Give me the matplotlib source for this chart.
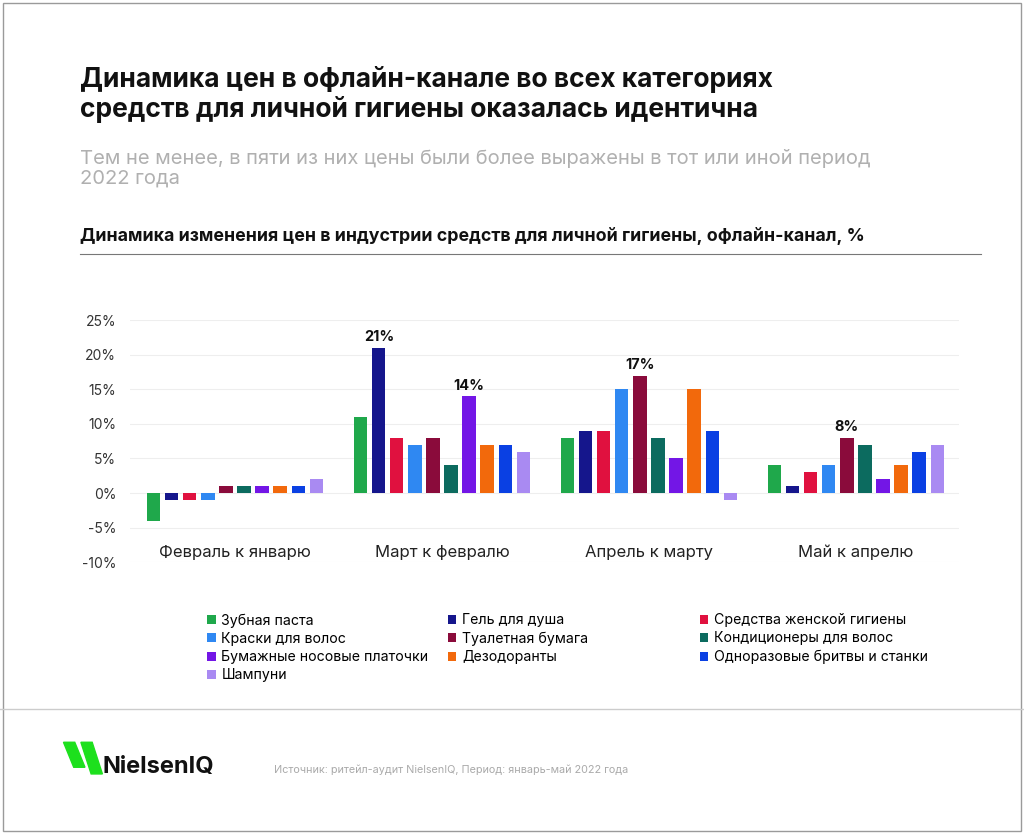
import numpy as np
import matplotlib.pyplot as plt
from matplotlib.patches import Rectangle

plt.rcParams['font.family'] = ['Inter', 'DejaVu Sans']

periods = ['Февраль к январю', 'Март к февралю', 'Апрель к марту', 'Май к апрелю']
series = ['Зубная паста', 'Гель для душа', 'Средства женской гигиены',
          'Краски для волос', 'Туалетная бумага', 'Кондиционеры для волос',
          'Бумажные носовые платочки', 'Дезодоранты', 'Одноразовые бритвы и станки',
          'Шампуни']
colors = ['#1fa84b', '#15168c', '#e0113f', '#2f88f2', '#8a0b3b', '#0c6b5f',
          '#7316e6', '#f2690c', '#0a40e3', '#a98af2']
values = [
    [-4, 11, 8, 4],
    [-1, 21, 9, 1],
    [-1, 8, 9, 3],
    [-1, 7, 15, 4],
    [1, 8, 17, 8],
    [1, 4, 8, 7],
    [1, 14, 5, 2],
    [1, 7, 15, 4],
    [1, 7, 9, 6],
    [2, 6, -1, 7],
]
# (series index, period index) of the labelled bars
highlights = [(1, 1), (6, 1), (4, 2), (4, 3)]

fig = plt.figure(figsize=(10.24, 8.34), dpi=100)
fig.patches.append(Rectangle((0.003, 0.003), 0.994, 0.994, transform=fig.transFigure,
                             fill=False, edgecolor='#9a9a9a', lw=1))

fig.text(0.078, 0.853, 'Динамика цен в офлайн-канале во всех категориях\nсредств для личной гигиены оказалась идентична',
         fontsize=19, fontweight='bold', color='#111111', va='bottom', linespacing=1.12)
fig.text(0.078, 0.775, 'Тем не менее, в пяти из них цены были более выражены в тот или иной период\n2022 года',
         fontsize=14.5, color='#b0b0b0', va='bottom', linespacing=1.15)
fig.text(0.078, 0.706, 'Динамика изменения цен в индустрии средств для личной гигиены, офлайн-канал, %',
         fontsize=12.8, fontweight='bold', color='#111111', va='bottom')
fig.add_artist(plt.Line2D([0.078, 0.958], [0.695, 0.695], color='#777777', lw=0.8))
fig.add_artist(plt.Line2D([0.0, 1.0], [0.15, 0.15], color='#cccccc', lw=1))

ax = fig.add_axes([0.127, 0.326, 0.81, 0.29])
x = np.arange(len(periods))
step = 0.087
width = 0.063
for i, (name, col) in enumerate(zip(series, colors)):
    ax.bar(x + (i - 4.5) * step, values[i], width, color=col, label=name, zorder=3)
for si, pi in highlights:
    v = values[si][pi]
    ax.text(pi + (si - 4.5) * step, v + 0.5, f'{v}%', ha='center', va='bottom',
            fontsize=10.5, fontweight='bold', color='#111111')
for pi, p in enumerate(periods):
    ax.text(pi, -8.6, p, ha='center', va='center', fontsize=12, color='#222222')

ax.set_ylim(-10, 25)
ax.set_xlim(-0.507, 3.5)
ax.set_yticks(range(-10, 30, 5))
ax.set_yticklabels([f'{t}%' for t in range(-10, 30, 5)], fontsize=10, color='#333333')
ax.set_xticks([])
ax.grid(axis='y', color='#eeeeee', lw=0.8, zorder=0)
ax.tick_params(axis='y', length=0, pad=10)
for s in ax.spines.values():
    s.set_visible(False)

# legend laid out row by row in three fixed columns
handles, labels = ax.get_legend_handles_labels()
col_x = [0.19, 0.425, 0.671]
for c in range(3):
    idx = list(range(c, len(series), 3))
    leg = fig.legend([handles[k] for k in idx], [labels[k] for k in idx],
                     loc='upper left', bbox_to_anchor=(col_x[c], 0.28),
                     frameon=False, fontsize=10.2, handlelength=0.6, handleheight=0.6,
                     handletextpad=0.4, labelspacing=0.3)

# logo
fig.patches.append(plt.Polygon([(0.062, 0.11), (0.073, 0.11), (0.083, 0.08), (0.072, 0.08)],
                               transform=fig.transFigure, color='#1de01d'))
fig.patches.append(plt.Polygon([(0.079, 0.11), (0.09, 0.11), (0.1, 0.072), (0.089, 0.072)],
                               transform=fig.transFigure, color='#1de01d'))
fig.text(0.1, 0.08, 'NielsenIQ', fontsize=17, fontweight='bold', color='#111111', va='center')
fig.text(0.268, 0.077, 'Источник: ритейл-аудит NielsenIQ, Период: январь-май 2022 года',
         fontsize=7.8, color='#aaaaaa', va='center')

fig.savefig('out.png', dpi=100)
